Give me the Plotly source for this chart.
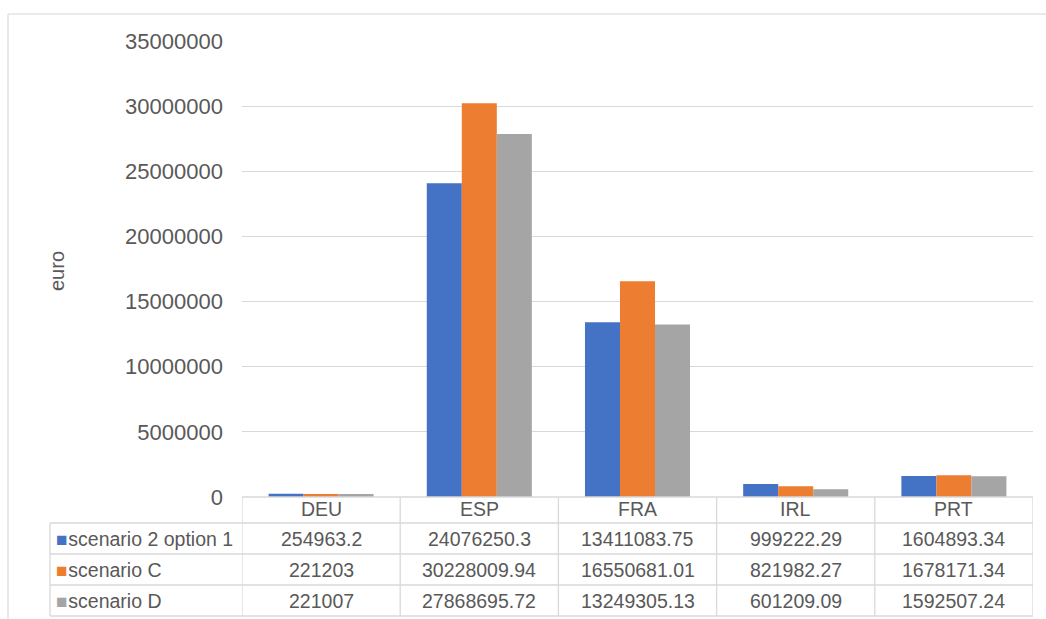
import plotly.graph_objects as go

# ---- data -------------------------------------------------------------
countries = ["DEU", "ESP", "FRA", "IRL", "PRT"]
series_names = ["scenario 2 option 1", "scenario C", "scenario D"]
scenario_2_option_1 = [254963.2, 24076250.3, 13411083.75, 999222.29, 1604893.34]
scenario_c = [221203, 30228009.94, 16550681.01, 821982.27, 1678171.34]
scenario_d = [221007, 27868695.72, 13249305.13, 601209.09, 1592507.24]
table_text = [
    ["254963.2", "24076250.3", "13411083.75", "999222.29", "1604893.34"],
    ["221203", "30228009.94", "16550681.01", "821982.27", "1678171.34"],
    ["221007", "27868695.72", "13249305.13", "601209.09", "1592507.24"],
]
y_ticks = [0, 5000000, 10000000, 15000000, 20000000, 25000000, 30000000, 35000000]

# ---- styling ----------------------------------------------------------
W, H = 1046, 619
colors = ["#4472C4", "#ED7D31", "#A5A5A5"]
text_color = "#595959"
grid_color = "#D9D9D9"
font_family = "Liberation Sans, Arial, sans-serif"
table_font = 19.5


def py(pixel_y):
    """Convert a pixel row (from top) into paper y."""
    return 1 - pixel_y / H


def px(pixel_x):
    return pixel_x / W


plot_left, plot_right = 242, 1033
plot_top, plot_bottom = 41, 497
# table row boundaries and centres (pixel rows)
row_lines = [497, 523, 554, 585, 616]
row_centres = [509, 538.5, 569.5, 600.5]

fig = go.Figure()
for name, vals, col in zip(series_names,
                           [scenario_2_option_1, scenario_c, scenario_d],
                           colors):
    fig.add_trace(go.Bar(x=countries, y=vals, name=name,
                         marker=dict(color=col, line=dict(width=0)),
                         hoverinfo="x+y+name"))

shapes = []
# outer chart frame
shapes.append(dict(type="line", xref="paper", yref="paper",
                   x0=px(8), x1=px(8), y0=0, y1=py(14),
                   line=dict(color="#E3E3E3", width=1.5)))
shapes.append(dict(type="line", xref="paper", yref="paper",
                   x0=px(8), x1=1, y0=py(14), y1=py(14),
                   line=dict(color="#E3E3E3", width=1.5)))

# table: horizontal rules
for i, yl in enumerate(row_lines):
    x_start = plot_left if i == 0 else 50
    shapes.append(dict(type="line", xref="paper", yref="paper",
                       x0=px(x_start), x1=px(plot_right),
                       y0=py(yl), y1=py(yl),
                       line=dict(color=grid_color, width=1.3)))
# table: vertical rules at category boundaries
for k in range(len(countries) + 1):
    shapes.append(dict(type="line", xref="x", yref="paper",
                       x0=k - 0.5, x1=k - 0.5,
                       y0=py(row_lines[0]), y1=py(row_lines[-1]),
                       line=dict(color=grid_color, width=1.3)))
# legend column left edge
shapes.append(dict(type="line", xref="paper", yref="paper",
                   x0=px(50), x1=px(50),
                   y0=py(row_lines[1]), y1=py(row_lines[-1]),
                   line=dict(color=grid_color, width=1.3)))

annotations = []
# header row with country codes
for i, c in enumerate(countries):
    annotations.append(dict(x=i, y=py(row_centres[0]), xref="x", yref="paper",
                            text=c, showarrow=False, xanchor="center",
                            yanchor="middle",
                            font=dict(size=table_font, color=text_color,
                                      family=font_family)))
# body rows
for r, (name, col) in enumerate(zip(series_names, colors)):
    yc = py(row_centres[r + 1])
    annotations.append(dict(
        x=px(54), y=yc, xref="paper", yref="paper",
        text=(f'<span style="color:{col};font-size:19px">■</span>'
              f'<span style="font-size:3px"> </span>{name}'),
        showarrow=False, xanchor="left", yanchor="middle",
        font=dict(size=table_font, color=text_color, family=font_family)))
    for i, t in enumerate(table_text[r]):
        annotations.append(dict(x=i, y=yc, xref="x", yref="paper",
                                text=t, showarrow=False, xanchor="center",
                                yanchor="middle",
                                font=dict(size=table_font, color=text_color,
                                          family=font_family)))
# value axis title
annotations.append(dict(x=px(57), y=py(271), xref="paper", yref="paper",
                        text="euro", textangle=-90, showarrow=False,
                        xanchor="center", yanchor="middle",
                        font=dict(size=20, color=text_color,
                                  family=font_family)))

fig.update_layout(
    width=W, height=H,
    margin=dict(l=0, r=0, t=0, b=0, pad=0, autoexpand=False),
    paper_bgcolor="white", plot_bgcolor="white",
    barmode="group", bargap=0.336, bargroupgap=0,
    showlegend=False,
    font=dict(family=font_family, color=text_color),
    xaxis=dict(domain=[px(plot_left), px(plot_right)],
               range=[-0.5, len(countries) - 0.5], automargin=False,
               showticklabels=False, showgrid=False, zeroline=False,
               showline=False, ticks=""),
    yaxis=dict(domain=[py(plot_bottom), py(plot_top)],
               range=[0, 35000000], tickvals=y_ticks, automargin=False,
               ticktext=[str(v) for v in y_ticks],
               showgrid=True, gridcolor=grid_color, gridwidth=1.3,
               zeroline=False, showline=False, ticks="",
               ticklabelstandoff=18,
               tickfont=dict(size=22, color=text_color, family=font_family)),
    shapes=shapes,
    annotations=annotations,
)

fig.write_html("out.html")
